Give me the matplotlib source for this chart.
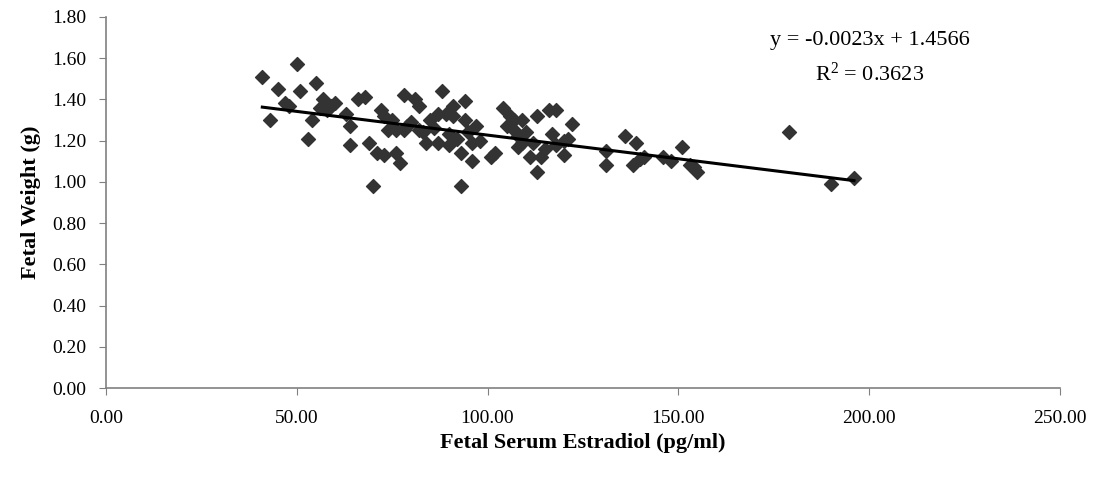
import matplotlib.pyplot as plt
import numpy as np

# fetal serum estradiol (pg/ml) vs fetal weight (g)
estradiol = [41, 43, 45, 47, 48, 50, 51, 53, 54, 55, 56, 57, 58, 59, 60,
             63, 64, 64, 66, 68, 69, 70, 71, 72, 73, 73, 74, 75, 76, 76, 77, 78, 78, 79, 80,
             81, 82, 82, 83, 84, 85, 86, 87, 87, 88, 89, 90, 90, 91, 91, 92, 93, 93, 94, 94,
             95, 96, 96, 97, 98,
             101, 102, 104, 105, 106, 107, 107, 108, 108, 109, 109, 110, 111, 112, 113, 113,
             114, 115, 116, 117, 118, 118, 120, 121, 122, 120,
             131, 131, 136, 138, 139, 140, 141, 146, 148, 151, 153, 154, 155,
             179, 190, 196]
weight = [1.51, 1.30, 1.45, 1.38, 1.37, 1.57, 1.44, 1.21, 1.30, 1.48, 1.36, 1.40, 1.35, 1.37, 1.38,
          1.33, 1.27, 1.18, 1.40, 1.41, 1.19, 0.98, 1.14, 1.35, 1.32, 1.13, 1.25, 1.30, 1.25, 1.14, 1.09, 1.42, 1.25, 1.27, 1.29,
          1.40, 1.37, 1.25, 1.24, 1.19, 1.30, 1.26, 1.33, 1.19, 1.44, 1.33, 1.18, 1.23, 1.32, 1.37, 1.21, 1.14, 0.98, 1.39, 1.30,
          1.24, 1.19, 1.10, 1.27, 1.20,
          1.12, 1.14, 1.36, 1.27, 1.32, 1.30, 1.25, 1.17, 1.22, 1.30, 1.19, 1.24, 1.12, 1.19, 1.05, 1.32,
          1.12, 1.16, 1.35, 1.23, 1.35, 1.18, 1.13, 1.21, 1.28, 1.20,
          1.15, 1.08, 1.22, 1.08, 1.19, 1.11, 1.12, 1.12, 1.10, 1.17, 1.08, 1.07, 1.05,
          1.24, 0.99, 1.02]

# trendline from the chart's equation
slope = -0.0023
intercept = 1.4566
r2 = 0.3623

plt.rcParams['font.family'] = ['Liberation Serif', 'DejaVu Serif']

fig = plt.figure(figsize=(11.02, 4.82), dpi=100)
ax = fig.add_axes([0.096, 0.195, 0.866, 0.77])

ax.scatter(estradiol, weight, marker='D', s=50, color='#333333', zorder=3)

xl = np.array([min(estradiol), max(estradiol)])
ax.plot(xl, slope * xl + intercept, color='black', linewidth=2.2, zorder=4)

ax.set_xlim(0, 250)
ax.set_ylim(0, 1.8)
ax.set_xticks(np.arange(0, 251, 50))
ax.set_yticks(np.arange(0, 1.81, 0.2))
ax.xaxis.set_major_formatter(plt.FormatStrFormatter('%.2f'))
ax.yaxis.set_major_formatter(plt.FormatStrFormatter('%.2f'))

for s in ['top', 'right']:
    ax.spines[s].set_visible(False)
for s in ['left', 'bottom']:
    ax.spines[s].set_color('#808080')
    ax.spines[s].set_linewidth(1.2)
ax.tick_params(direction='out', length=5, color='#808080', labelsize=14, pad=9)
ax.tick_params(axis='x', pad=11)

ax.set_xlabel('Fetal Serum Estradiol (pg/ml)', fontsize=16, fontweight='bold', labelpad=4)
ax.set_ylabel('Fetal Weight (g)', fontsize=16, fontweight='bold', labelpad=8)

fig.text(0.789, 0.917, 'y = %.4fx + %.4f' % (slope, intercept), fontsize=16, ha='center', va='center')
fig.text(0.789, 0.846, '$\\mathregular{R^2}$ = %.4f' % r2, fontsize=16, ha='center', va='center')

fig.savefig('out.png', dpi=100)
